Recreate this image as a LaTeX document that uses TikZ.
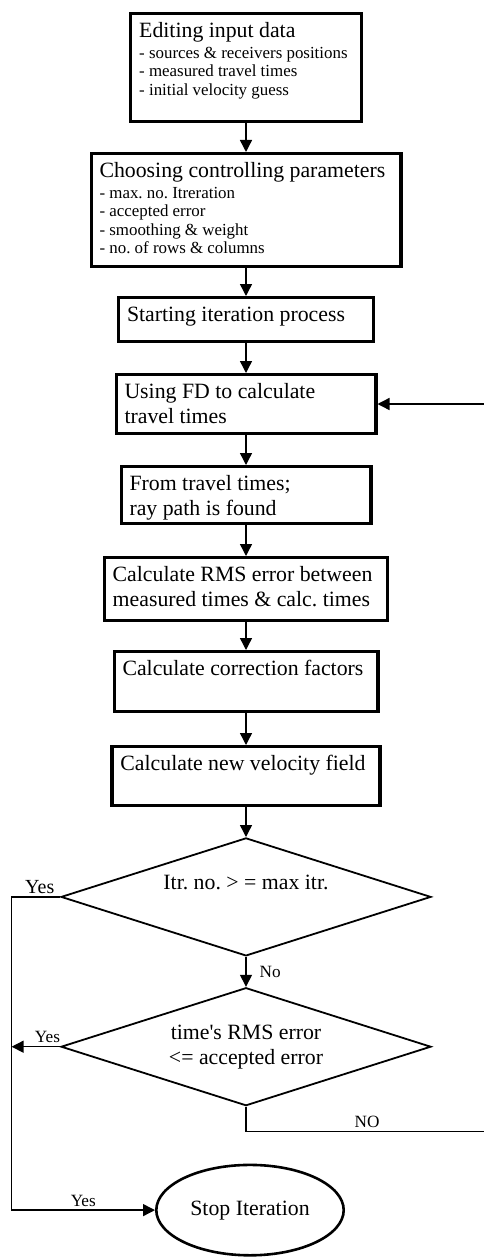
\documentclass[tikz,border=0pt]{standalone}
\usepackage{fontspec}
\setmainfont{Liberation Serif}
\usetikzlibrary{shapes.geometric, arrows.meta, positioning, calc}

\newcommand{\detailsize}{\fontsize{8.45}{9.25}\selectfont}
\frenchspacing

\begin{document}
\begin{tikzpicture}[
    node distance=15pt,
    box/.style={rectangle, draw, line width=1.6pt, align=flush left, inner xsep=4.2pt, inner ysep=4.2pt, text height=7.6pt, font=\fontsize{10.9}{12.5}\selectfont},
    decision/.style={diamond, draw, line width=0.9pt, aspect=3, minimum width=185pt, minimum height=59pt, inner sep=0pt, align=center, font=\fontsize{10.9}{12.5}\selectfont},
    terminal/.style={ellipse, draw, line width=1.3pt, minimum width=93.7pt, minimum height=45.2pt, inner sep=0pt, font=\fontsize{10.9}{12.5}\selectfont},
    arrow/.style={-{Triangle[length=6pt, width=6pt]}, line width=0.7pt},
    answer/.style={font=\fontsize{8.6}{10}\selectfont, inner sep=1.5pt}
]
\useasboundingbox (0,0) rectangle (241.5pt,-628.5pt);

% Input data
\node[box, anchor=north, text width=106.8pt, text depth=37.9pt] (input) at (123pt,-6pt)
  {Editing input data\\[1.25pt]\detailsize - sources \& receivers positions\\- measured travel times\\- initial velocity guess\par};

% Controlling parameters
\node[box, below=14.5pt of input, text width=146.5pt, text depth=40.4pt] (params)
  {Choosing controlling parameters\\[1.25pt]\detailsize - max. no. Itreration\\- accepted error\\- smoothing \& weight\\- no. of rows \& columns\par};

% Iteration steps
\node[box, below=14pt of params, text width=119pt, text depth=5.9pt] (start) {Starting iteration process};
\node[box, below=of start, text width=121.5pt, text depth=13.4pt] (fdcalc) {Using FD to calculate\\travel times};
\node[box, below=of fdcalc, text width=116.5pt, text depth=12.4pt] (raypath) {From travel times;\\ray path is found};
\node[box, below=15.5pt of raypath, text width=133.3pt, text depth=15.4pt] (rms) {Calculate RMS error between\\measured times \& calc. times};
\node[box, below=14pt of rms, text width=123.5pt, text depth=13.9pt] (correct) {Calculate correction factors};
\node[box, below=16pt of correct, text width=125.6pt, text depth=13.4pt] (velocity) {Calculate new velocity field};

% Stop tests
\node[decision, below=of velocity, text height=7.3pt, text depth=14.3pt] (maxitr) {Itr. no. > = max itr.};
\node[decision, below=of maxitr] (converge) {time\textquotesingle s RMS error\\<= accepted error};

% End
\node[terminal, below=28.5pt of converge, xshift=2pt] (stop) {Stop Iteration};

% Rails for the loops
\coordinate (leftrail) at (5.8pt,0);
\coordinate (rightrail) at (244pt,0);
\coordinate[below=12.5pt of converge.south] (loopback);

% Arrows
\draw[arrow] (input) -- (params);
\draw[arrow] (params) -- (start);
\draw[arrow] (start) -- (fdcalc);
\draw[arrow] (fdcalc) -- (raypath);
\draw[arrow] (raypath) -- (rms);
\draw[arrow] (rms) -- (correct);
\draw[arrow] (correct) -- (velocity);
\draw[arrow] (velocity) -- (maxitr);
\draw[arrow] (maxitr) -- node[answer, right=5pt] {No} (converge);
\draw[arrow] (maxitr.west) -- node[answer, above, pos=.42, font=\fontsize{10}{12}\selectfont] {Yes} (maxitr.west -| leftrail) |- node[answer, above, pos=.75] {Yes} (stop.west);
\draw[arrow] (converge.west) -- node[answer, above, pos=.26] {Yes} (converge.west -| leftrail);
\draw[arrow] (converge.south) -- (loopback) -- node[answer, above] {NO} (loopback -| rightrail) |- (fdcalc.east);

\end{tikzpicture}
\end{document}
